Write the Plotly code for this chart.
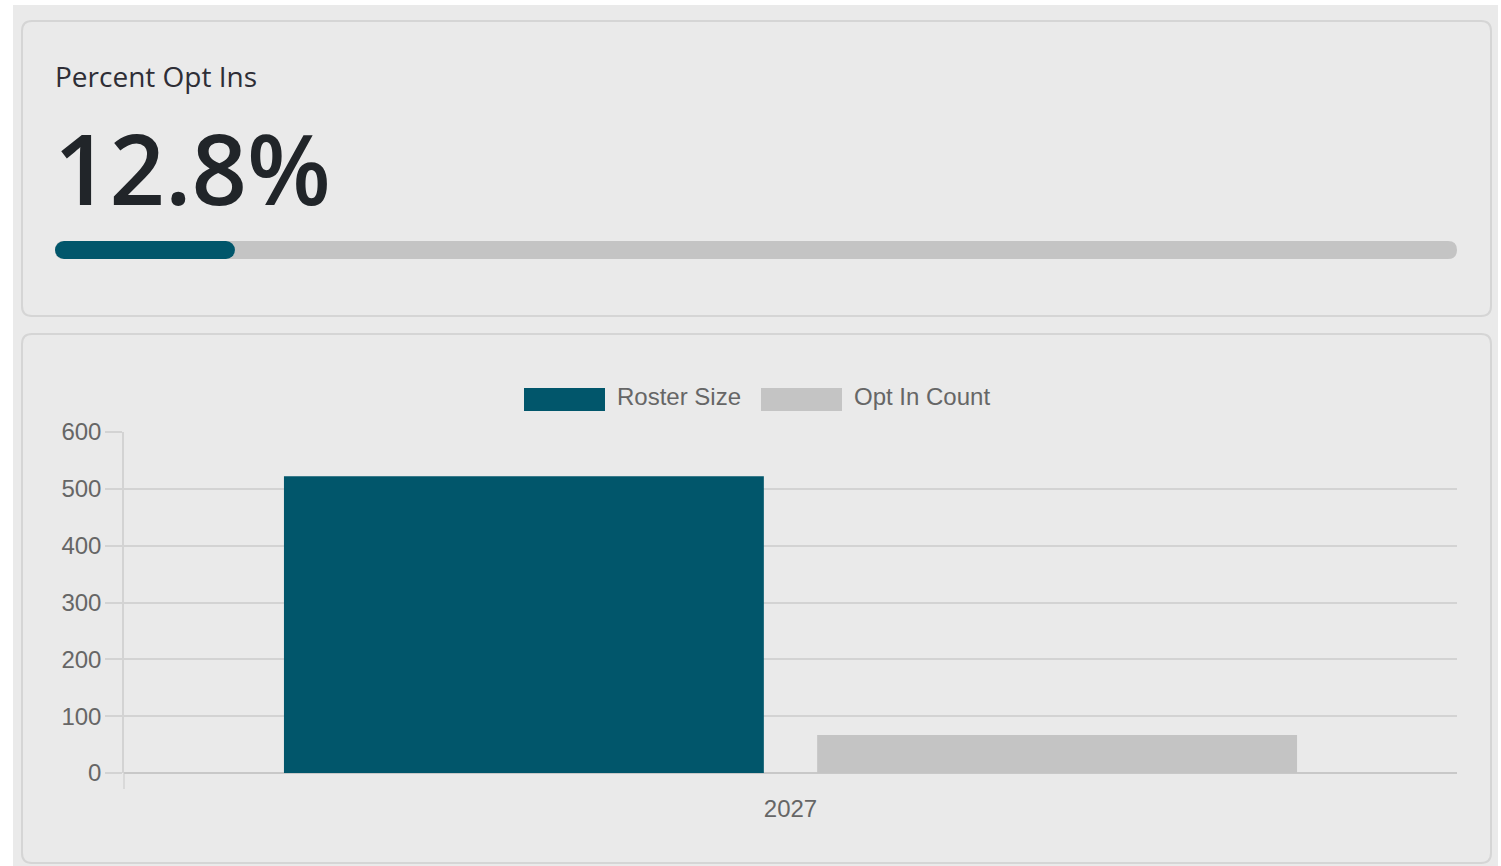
import plotly.graph_objects as go

# ---- data ----
categories = ["2027"]
series_names = ["Roster Size", "Opt In Count"]
roster_size = [522]
opt_in_count = [67]
series_colors = ["#01566b", "#c4c4c4"]
card_title = "Percent Opt Ins"

W, H = 1501, 866
BG = "#eaeaea"
GRID = "#d3d3d3"
TXT = "#666666"


def X(px):
    return px / W


def Y(py):
    return 1 - py / H


def rrect(x0, y0, x1, y1, r):
    pts = [
        ("M", (x0 + r, y0)), ("L", (x1 - r, y0)), ("Q", (x1, y0), (x1, y0 + r)),
        ("L", (x1, y1 - r)), ("Q", (x1, y1), (x1 - r, y1)), ("L", (x0 + r, y1)),
        ("Q", (x0, y1), (x0, y1 - r)), ("L", (x0, y0 + r)), ("Q", (x0, y0), (x0 + r, y0)),
    ]
    s = ""
    for p in pts:
        cmd = p[0]
        coords = " ".join(f"{X(a):.6f},{Y(b):.6f}" for a, b in p[1:])
        s += f"{cmd} {coords} "
    return s + "Z"


pct = opt_in_count[0] / roster_size[0] * 100

fig = go.Figure()

# bar chart
fig.add_trace(go.Bar(x=categories, y=roster_size, name=series_names[0],
                     marker=dict(color=series_colors[0], line=dict(width=0)),
                     xaxis="x", yaxis="y", showlegend=False))
fig.add_trace(go.Bar(x=categories, y=opt_in_count, name=series_names[1],
                     marker=dict(color=series_colors[1], line=dict(width=0)),
                     xaxis="x", yaxis="y", showlegend=False))

# progress bar fill (drawn from pct back to 0 so the left end is rounded)
fig.add_trace(go.Bar(y=[0], x=[-pct], base=[pct], orientation="h", width=[1],
                     marker=dict(color=series_colors[0], cornerradius=9, line=dict(width=0)),
                     xaxis="x3", yaxis="y3", showlegend=False, hoverinfo="skip"))

shapes = []
# page background
shapes.append(dict(type="rect", xref="paper", yref="paper", x0=X(13), x1=X(1498), y0=Y(866), y1=Y(5),
                   fillcolor=BG, line=dict(width=0), layer="below"))
# cards
for (y0, y1) in [(21, 316), (334, 863)]:
    shapes.append(dict(type="path", xref="paper", yref="paper", path=rrect(22, y0, 1491, y1, 10),
                       fillcolor=BG, line=dict(color="#d5d5d5", width=2), layer="below"))
# progress track
shapes.append(dict(type="path", xref="paper", yref="paper", path=rrect(55, 241, 1457, 259, 9),
                   fillcolor="#c4c4c4", line=dict(width=0), layer="below"))
# axis tick extension below zero
shapes.append(dict(type="line", xref="paper", yref="paper", x0=X(124), x1=X(124), y0=Y(789), y1=Y(773),
                   line=dict(color=GRID, width=1.5), layer="below"))
# custom legend swatches
shapes.append(dict(type="rect", xref="paper", yref="paper", x0=X(524), x1=X(605), y0=Y(411), y1=Y(388),
                   fillcolor=series_colors[0], line=dict(width=0)))
shapes.append(dict(type="rect", xref="paper", yref="paper", x0=X(761), x1=X(842), y0=Y(411), y1=Y(388),
                   fillcolor=series_colors[1], line=dict(width=0)))

annotations = [
    dict(text=card_title, x=X(53), y=Y(76), xref="paper", yref="paper", xanchor="left", yanchor="middle",
         showarrow=False, font=dict(family="Open Sans", size=28, color="#2e2e36")),
    dict(text=f"{pct:.1f}%", x=X(52), y=Y(167), xref="paper", yref="paper", xanchor="left", yanchor="middle",
         showarrow=False, font=dict(family="Open Sans", size=97, weight=600, color="#212529")),
    dict(text=series_names[0], x=X(615), y=Y(397), xref="paper", yref="paper", xanchor="left", yanchor="middle",
         showarrow=False, font=dict(family="Liberation Sans", size=24, color=TXT)),
    dict(text=series_names[1], x=X(852), y=Y(397), xref="paper", yref="paper", xanchor="left", yanchor="middle",
         showarrow=False, font=dict(family="Liberation Sans", size=24, color=TXT)),
]

fig.update_layout(
    width=W, height=H, margin=dict(l=0, r=0, t=0, b=0, autoexpand=False),
    paper_bgcolor="#ffffff", plot_bgcolor="rgba(0,0,0,0)",
    barmode="group", bargap=0.2, bargroupgap=0.1,
    shapes=shapes, annotations=annotations, showlegend=False,
    xaxis=dict(domain=[X(124), X(1457)], type="category", range=[-0.5, 0.5], automargin=False,
               showgrid=False, zeroline=False, showline=False, ticks="",
               tickfont=dict(family="Liberation Sans", size=24, color=TXT), ticklabelstandoff=19),
    yaxis=dict(domain=[Y(773), Y(432)], range=[0, 600], dtick=100, showgrid=True, automargin=False,
               gridcolor=GRID, gridwidth=1.5, zeroline=True, zerolinecolor="#c8c8c8", zerolinewidth=2,
               showline=True, linecolor=GRID, linewidth=1.5,
               ticks="outside", ticklen=17, tickcolor=GRID, tickwidth=1.5,
               tickfont=dict(family="Liberation Sans", size=24, color=TXT), ticklabelstandoff=-1),
    xaxis3=dict(domain=[X(55), X(1457)], range=[0, 100], visible=False, fixedrange=True, automargin=False),
    yaxis3=dict(domain=[Y(259), Y(241)], range=[-0.5, 0.5], visible=False, fixedrange=True, automargin=False),
)

page_fix = "document.body.style.margin='0';document.body.style.overflow='hidden';"

fig.write_html("out.html", config={"displayModeBar": False}, post_script=page_fix)
